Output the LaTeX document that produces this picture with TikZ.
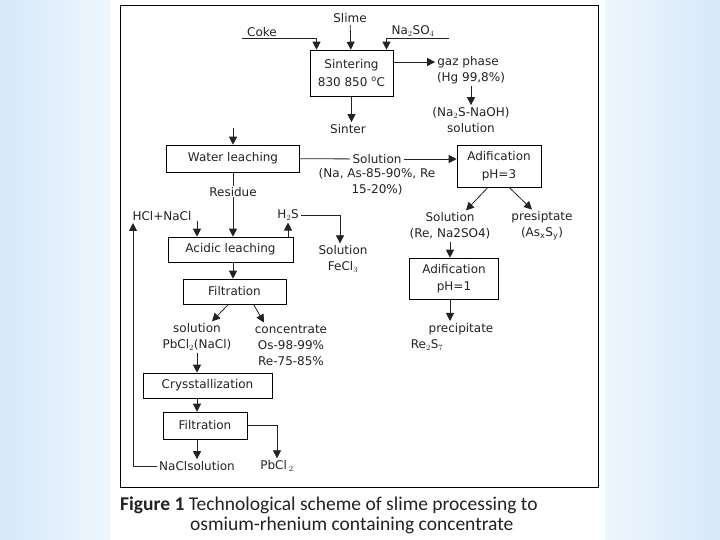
\documentclass[tikz,border=0pt]{standalone}
\usepackage{fontspec}
\setmainfont{DejaVu Sans}
\newfontfamily\capfont{Carlito}
\usetikzlibrary{arrows.meta, positioning}
\definecolor{slideblue}{RGB}{214,233,250}
\definecolor{inkgray}{RGB}{35,35,35}

\begin{document}
\begin{tikzpicture}[x=1pt, y=-1pt, font=\fontsize{12}{16}\selectfont, text=inkgray,
  box/.style={draw, semithick, align=center, inner sep=1pt, font=\fontsize{12}{17.5}\selectfont},
  lbl/.style={align=center, inner sep=2pt},
  flow/.style={-{Triangle[length=8pt,width=8pt]}, thick, draw=inkgray}]

  % slide background and page
  \useasboundingbox (0,0) rectangle (720,540);
  \shade[left color=slideblue, right color=slideblue!40] (0,0) rectangle (110,540);
  \shade[left color=slideblue!40, right color=slideblue] (605,0) rectangle (720,540);
  \fill[white] (110,0) rectangle (605,540);
  \draw[semithick] (120,5) rectangle (598,487);

  % process boxes
  \node[box, minimum width=83, minimum height=46] (sint) at (351.5,73) {Sintering\\830 850 $^{\mathrm{o}}$C};
  \node[box, minimum width=133, minimum height=27] (wl) at (233,158.5) {Water leaching};
  \node[box, minimum width=125, minimum height=25] (acid) at (230.5,249.5) {Acidic leaching};
  \node[box, minimum width=103, minimum height=25] (filt1) at (234.5,291.5) {Filtration};
  \node[box, minimum width=129, minimum height=25] (cryst) at (207.5,385.5) {Crysstallization};
  \node[box, minimum width=84, minimum height=27] (filt2) at (205,425.5) {Filtration};
  \node[box, minimum width=84, minimum height=42] (adi3) at (499,166) {Adification\\pH=3};
  \node[box, minimum width=89, minimum height=41] (adi1) at (454,278.5) {Adification\\pH=1};

  % labels
  \node[lbl] (slime) at (350,18) {Slime};
  \node[lbl] (coke) at (262,32) {Coke};
  \node[lbl] (naso) at (413,31) {Na$_2$SO$_4$};
  \node[lbl] (gaz) at (468,62) {gaz phase};
  \node[lbl] (hg) at (471,78) {(Hg 99,8\%)};
  \node[lbl] (nas) at (471,120) {(Na$_2$S-NaOH)\\solution};
  \node[lbl] (sinter) at (348,129) {Sinter};
  \node[lbl] (solword) at (377,159) {Solution};
  \node[lbl] (soldet) at (377,182) {(Na, As-85-90\%, Re\\15-20\%)};
  \node[lbl] (hcl) at (162,216) {HCl+NaCl};
  \node[lbl] (h2s) at (288,215) {H$_2$S};
  \node[lbl] (fecl) at (343,259) {Solution\\FeCl$_3$};
  \node[lbl] (sol2) at (197,337) {solution\\PbCl$_2$(NaCl)};
  \node[lbl] (conc) at (291,345) {concentrate\\Os-98-99\%\\Re-75-85\%};
  \node[lbl] (nacl) at (197,466) {NaClsolution};
  \node[lbl] (pbcl) at (277,466) {PbCl\,$_2$};
  \node[lbl] (solrr) at (450,226) {Solution\\(Re, Na2SO4)};
  \node[lbl] (presip) at (542,226) {presiptate\\(As$_\mathrm{x}$S$_\mathrm{y}$)};
  \node[lbl] (precip) at (461,329) {precipitate};
  \node[lbl] (res7) at (427,345) {Re$_2$S$_7$};

  \coordinate (wlin) at (233,128);
  \coordinate (hclin) at (197,221);
  \coordinate (ret) at (133,223);

  % sintering
  \draw[flow] (slime) -- (sint);
  \draw[flow] ([xshift=-3pt]coke.south west) -| ([xshift=-35pt]sint.north);
  \draw[flow] ([xshift=12pt]naso.south east) -| ([xshift=35pt]sint.north);
  \draw[flow] (sint.east |- gaz) -- (gaz.west);
  \draw[flow] (hg) -- (nas);
  \draw[flow] (sint) -- (sint.south |- sinter.north);

  % leaching
  \draw[flow] (wlin) -- (wl);
  \draw[thick, draw=inkgray] (wl) -- (solword);
  \draw[flow] (solword) -- (solword -| adi3.west);
  \draw[flow] (wl.south) -- node[pos=0.3, fill=white, inner sep=1pt] {Residue} (wl.south |- acid.north);
  \draw[flow] (hclin) -- (hclin |- acid.north);
  \draw[flow] (acid.north -| h2s) -- (h2s.south);
  \draw[flow] (h2s.east) -| ([xshift=-3pt]fecl.north);
  \draw[flow] (acid.south -| wl) -- (wl |- filt1.north);

  % lead chloride branch
  \draw[flow] ([xshift=-6pt]filt1.south) -- ([xshift=15pt]sol2.north);
  \draw[flow] ([xshift=19pt]filt1.south) -- ([xshift=-27pt]conc.north);
  \draw[flow] (sol2.south) -- (sol2.south |- cryst.north);
  \draw[flow] (cryst.south -| sol2) -- (sol2 |- filt2.north);
  \draw[flow] (filt2.south -| nacl) -- (nacl.north);
  \draw[flow] (filt2.east) -| (pbcl.north);
  \draw[flow] (nacl.west) -| (ret);

  % rhenium branch
  \draw[flow] ([xshift=-11pt]adi3.south) -- ([xshift=16pt]solrr.north);
  \draw[flow] ([xshift=10pt]adi3.south) -- ([xshift=-10pt]presip.north);
  \draw[flow] (solrr.south) -- (solrr.south |- adi1.north);
  \draw[flow] (adi1.south -| solrr) -- (solrr |- precip.north);

  % caption
  \node[anchor=west, inner sep=0pt, font=\capfont\fontsize{19.5}{21}\selectfont] (cap1) at (120,505)
    {\textbf{Figure 1} Technological scheme of slime processing to};
  \node[anchor=west, inner sep=0pt, font=\capfont\fontsize{19.5}{21}\selectfont] (cap2) at (190,525)
    {osmium-rhenium containing concentrate};
\end{tikzpicture}
\end{document}
